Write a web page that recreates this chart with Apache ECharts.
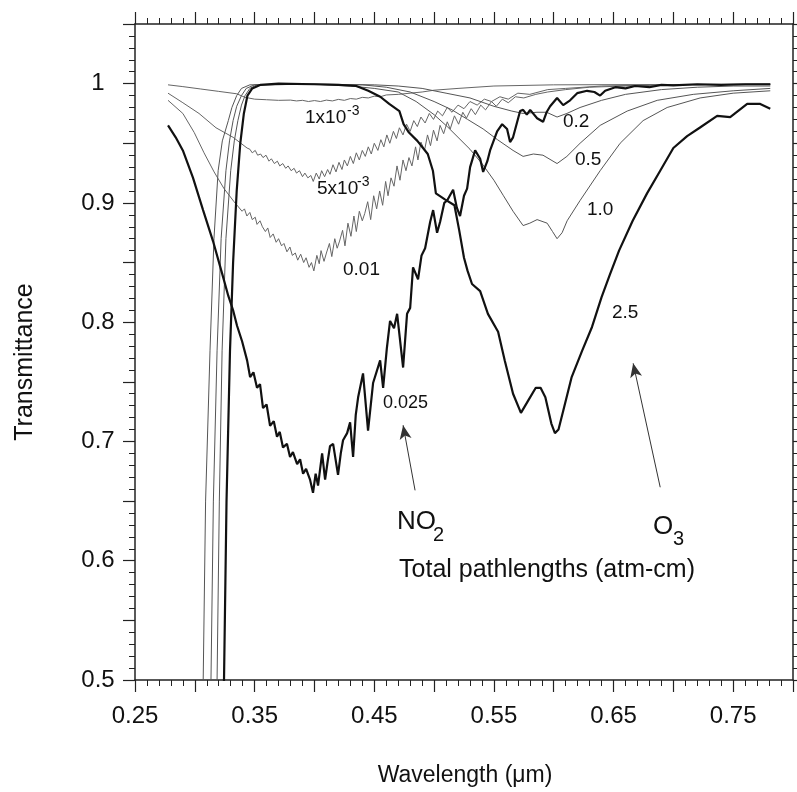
<!DOCTYPE html>
<html>
<head>
<meta charset="utf-8">
<title>Transmittance of O3 and NO2</title>
<script src="https://cdn.jsdelivr.net/npm/echarts/dist/echarts.min.js"></script>
<style>
html, body { margin: 0; padding: 0; background: #fff; }
#main { width: 797px; height: 792px; }
</style>
</head>
<body>
<div id="main"></div>
<script>
// 坐标轴刻度
var xTicks = [0.25, 0.35, 0.45, 0.55, 0.65, 0.75];
var yTicks = [0.5, 0.6, 0.7, 0.8, 0.9, 1];

// O3 curves, [wavelength um, transmittance]
var o3_02 = [
  [0.3066,0.48],[0.307,0.5],[0.309,0.65],[0.3127,0.776],[0.316,0.87],[0.3195,0.927],[0.323,0.952],[0.328,0.969],
  [0.331,0.98],[0.335,0.99],[0.339,0.996],[0.346,0.999],[0.40,0.9995],[0.45,0.999],[0.47,0.998],[0.49,0.996],
  [0.51,0.992],[0.53,0.988],[0.55,0.981],[0.565,0.977],[0.5744,0.975],[0.586,0.976],[0.594,0.976],[0.6028,0.972],
  [0.611,0.975],[0.622,0.980],[0.64,0.986],[0.66,0.991],[0.69,0.995],[0.72,0.997],[0.75,0.998],[0.781,0.998]
];
var o3_05 = [
  [0.3131,0.48],[0.3135,0.5],[0.3155,0.65],[0.3186,0.776],[0.322,0.87],[0.326,0.927],[0.329,0.952],[0.332,0.969],
  [0.335,0.981],[0.339,0.99],[0.343,0.996],[0.35,0.999],[0.40,0.9995],[0.44,0.999],[0.46,0.997],[0.48,0.993],
  [0.50,0.985],[0.515,0.978],[0.528,0.970],[0.541,0.962],[0.553,0.953],[0.566,0.944],[0.5744,0.939],[0.583,0.941],
  [0.591,0.940],[0.6028,0.933],[0.611,0.939],[0.622,0.950],[0.6388,0.965],[0.6614,0.977],[0.6865,0.986],
  [0.7166,0.991],[0.75,0.994],[0.781,0.996]
];
var o3_10 = [
  [0.3182,0.48],[0.3186,0.5],[0.3205,0.65],[0.3228,0.776],[0.326,0.87],[0.330,0.927],[0.333,0.952],[0.336,0.969],
  [0.339,0.982],[0.342,0.99],[0.346,0.996],[0.352,0.999],[0.40,0.9995],[0.43,0.998],[0.45,0.996],[0.47,0.993],
  [0.485,0.985],[0.50,0.974],[0.511,0.964],[0.52,0.955],[0.53,0.945],[0.54,0.933],[0.55,0.919],[0.558,0.906],
  [0.566,0.893],[0.5744,0.881],[0.580,0.883],[0.5861,0.886],[0.5945,0.883],[0.599,0.876],[0.6028,0.870],
  [0.607,0.875],[0.6112,0.885],[0.622,0.902],[0.6388,0.927],[0.6555,0.950],[0.6747,0.969],[0.6948,0.980],
  [0.7224,0.988],[0.75,0.992],[0.781,0.994]
];
var o3_25 = [
  [0.3240,0.48],[0.3244,0.5],[0.3265,0.65],[0.3294,0.776],[0.332,0.85],[0.335,0.91],[0.338,0.95],[0.341,0.975],
  [0.344,0.99],[0.348,0.996],[0.355,0.999],[0.37,1.0],[0.40,0.9995],[0.42,0.999],[0.435,0.998],[0.445,0.994],
  [0.455,0.989],[0.4625,0.983],[0.471,0.977],[0.4745,0.966],[0.479,0.959],[0.486,0.952],[0.4947,0.941],
  [0.499,0.927],[0.5015,0.908],[0.509,0.903],[0.517,0.898],[0.521,0.877],[0.525,0.854],[0.528,0.843],
  [0.5317,0.832],[0.5385,0.826],[0.545,0.807],[0.5535,0.792],[0.559,0.768],[0.566,0.74],[0.5726,0.724],
  [0.5785,0.734],[0.585,0.745],[0.589,0.745],[0.593,0.737],[0.598,0.715],[0.601,0.707],[0.604,0.710],
  [0.608,0.726],[0.615,0.754],[0.6237,0.776],[0.632,0.796],[0.640,0.821],[0.647,0.840],[0.6546,0.86],
  [0.666,0.885],[0.678,0.908],[0.689,0.927],[0.700,0.946],[0.7115,0.956],[0.722,0.963],[0.7366,0.973],
  [0.7475,0.972],[0.7617,0.983],[0.7726,0.983],[0.781,0.979]
];

// NO2 curves
var no2_001 = [
  [0.2776,0.999],[0.29,0.9975],[0.305,0.9955],[0.32,0.9935],[0.335,0.9915],[0.342,0.9885],[0.35,0.987],
  [0.36,0.9865],[0.37,0.986],[0.38,0.9862],[0.385,0.9855],[0.39,0.986],[0.395,0.985],[0.40,0.9858],[0.405,0.985],
  [0.41,0.9862],[0.415,0.9855],[0.42,0.9868],[0.425,0.986],[0.43,0.9875],[0.435,0.987],[0.44,0.9885],[0.445,0.988],
  [0.45,0.9895],[0.455,0.989],[0.46,0.9905],[0.47,0.991],[0.48,0.992],[0.49,0.993],[0.50,0.9945],[0.52,0.996],
  [0.55,0.998],[0.60,0.999],[0.781,0.9995]
];
var no2_005 = [
  [0.2776,0.992],[0.290,0.984],[0.3035,0.975],[0.3177,0.963],[0.332,0.955],[0.3437,0.946],[0.346,0.945],
  [0.348,0.942],[0.3505,0.944],[0.3525,0.940],[0.355,0.941],[0.357,0.938],[0.3595,0.940],[0.362,0.935],
  [0.364,0.937],[0.3665,0.933],[0.369,0.935],[0.371,0.931],[0.3735,0.933],[0.376,0.929],[0.378,0.931],
  [0.3805,0.927],[0.383,0.929],[0.385,0.925],[0.3875,0.927],[0.390,0.922],[0.392,0.925],[0.3945,0.921],
  [0.397,0.923],[0.399,0.918],[0.4015,0.925],[0.404,0.920],[0.406,0.927],[0.4085,0.922],[0.411,0.928],
  [0.413,0.924],[0.4155,0.932],[0.418,0.926],[0.4205,0.934],[0.423,0.928],[0.425,0.936],[0.4275,0.931],
  [0.430,0.939],[0.4325,0.933],[0.435,0.942],[0.4375,0.936],[0.440,0.944],[0.4425,0.939],[0.445,0.947],
  [0.4475,0.941],[0.450,0.950],[0.453,0.944],[0.4555,0.953],[0.458,0.947],[0.4605,0.957],[0.463,0.950],
  [0.466,0.960],[0.4685,0.954],[0.471,0.963],[0.474,0.957],[0.477,0.966],[0.480,0.960],[0.483,0.969],
  [0.486,0.964],[0.489,0.972],[0.4925,0.967],[0.496,0.975],[0.4995,0.970],[0.503,0.977],[0.507,0.973],
  [0.511,0.980],[0.515,0.976],[0.52,0.982],[0.525,0.979],[0.53,0.985],[0.536,0.982],[0.542,0.987],
  [0.548,0.985],[0.555,0.989],[0.562,0.987],[0.57,0.992],[0.58,0.991],[0.595,0.995],[0.61,0.996],
  [0.64,0.998],[0.70,0.999],[0.781,0.9995]
];
var no2_010 = [
  [0.2776,0.986],[0.290,0.975],[0.2995,0.959],[0.3077,0.942],[0.3161,0.926],[0.3244,0.912],[0.3328,0.901],
  [0.3395,0.893],[0.3415,0.895],[0.3435,0.889],[0.346,0.892],[0.348,0.886],[0.3505,0.888],[0.352,0.882],
  [0.3545,0.885],[0.3565,0.880],[0.359,0.876],[0.361,0.879],[0.363,0.871],[0.3655,0.874],[0.368,0.867],
  [0.370,0.870],[0.3725,0.864],[0.3745,0.866],[0.377,0.859],[0.3795,0.863],[0.3815,0.856],[0.384,0.858],
  [0.386,0.852],[0.3885,0.857],[0.391,0.850],[0.393,0.854],[0.3955,0.846],[0.3975,0.850],[0.3995,0.843],
  [0.402,0.856],[0.404,0.849],[0.4055,0.860],[0.408,0.851],[0.410,0.858],[0.4125,0.866],[0.4145,0.855],
  [0.417,0.870],[0.419,0.862],[0.421,0.868],[0.4235,0.877],[0.4255,0.864],[0.428,0.883],[0.4305,0.872],
  [0.433,0.889],[0.435,0.876],[0.4375,0.893],[0.440,0.885],[0.442,0.891],[0.4445,0.901],[0.447,0.886],
  [0.4495,0.906],[0.452,0.895],[0.4545,0.910],[0.457,0.898],[0.4595,0.918],[0.4615,0.906],[0.464,0.921],
  [0.4665,0.914],[0.469,0.931],[0.4715,0.919],[0.474,0.936],[0.4765,0.927],[0.479,0.938],[0.4815,0.931],
  [0.4845,0.947],[0.4865,0.936],[0.489,0.951],[0.492,0.944],[0.4945,0.957],[0.497,0.948],[0.4995,0.961],
  [0.5025,0.952],[0.505,0.965],[0.508,0.958],[0.511,0.968],[0.5135,0.962],[0.517,0.973],[0.5205,0.966],
  [0.524,0.976],[0.527,0.971],[0.531,0.979],[0.5345,0.974],[0.539,0.982],[0.543,0.978],[0.548,0.985],
  [0.552,0.981],[0.557,0.987],[0.562,0.984],[0.568,0.989],[0.575,0.988],[0.585,0.991],[0.595,0.993],
  [0.61,0.995],[0.63,0.997],[0.66,0.998],[0.70,0.999],[0.781,0.9995]
];
var no2_025 = [
  [0.2776,0.965],[0.284,0.955],[0.290,0.944],[0.2985,0.921],[0.3069,0.894],[0.3152,0.868],[0.3236,0.838],
  [0.328,0.822],[0.332,0.81],[0.3353,0.797],[0.3395,0.784],[0.3437,0.768],[0.3462,0.754],[0.349,0.758],
  [0.352,0.745],[0.3545,0.748],[0.357,0.728],[0.360,0.731],[0.3629,0.713],[0.366,0.717],[0.3687,0.704],
  [0.371,0.708],[0.3737,0.695],[0.377,0.698],[0.3796,0.687],[0.382,0.691],[0.3855,0.681],[0.388,0.685],
  [0.3905,0.673],[0.393,0.677],[0.3963,0.668],[0.3988,0.657],[0.401,0.673],[0.403,0.663],[0.4064,0.690],
  [0.4089,0.668],[0.411,0.683],[0.413,0.696],[0.4156,0.698],[0.4197,0.672],[0.422,0.690],[0.4239,0.701],
  [0.4273,0.707],[0.4298,0.716],[0.4323,0.687],[0.4345,0.722],[0.4365,0.737],[0.4406,0.757],[0.4448,0.709],
  [0.449,0.749],[0.4549,0.768],[0.4574,0.745],[0.4605,0.778],[0.4632,0.801],[0.4665,0.795],[0.4691,0.807],
  [0.4741,0.762],[0.4774,0.807],[0.480,0.812],[0.4824,0.846],[0.4866,0.836],[0.4895,0.856],[0.4925,0.862],
  [0.4967,0.884],[0.4992,0.894],[0.5025,0.875],[0.505,0.884],[0.5085,0.900],[0.5109,0.902],[0.5159,0.911],
  [0.519,0.896],[0.5217,0.889],[0.525,0.906],[0.5276,0.912],[0.5301,0.930],[0.5343,0.944],[0.5385,0.937],
  [0.541,0.926],[0.5445,0.935],[0.5468,0.944],[0.5527,0.960],[0.5569,0.966],[0.561,0.962],[0.5635,0.951],
  [0.566,0.955],[0.5719,0.977],[0.5744,0.978],[0.5775,0.974],[0.5803,0.978],[0.5861,0.971],[0.5911,0.968],
  [0.594,0.976],[0.597,0.981],[0.6028,0.988],[0.6079,0.982],[0.6137,0.986],[0.6196,0.992],[0.6279,0.994],
  [0.634,0.993],[0.6388,0.99],[0.643,0.994],[0.6515,0.997],[0.66,0.996],[0.668,0.998],[0.68,0.997],
  [0.69,0.999],[0.70,0.9985],[0.72,0.9995],[0.74,0.999],[0.76,0.9995],[0.781,0.9995]
];

// arrows (data coords): NO2 and O3
var arrowNO2 = [[0.4841, 0.659], [0.4741, 0.7136]];
var arrowO3 = [[0.689, 0.6616], [0.6664, 0.7655]];

var FONT = '"Liberation Sans", Arial, Helvetica, sans-serif';
var AXC = '#222';

function near(v, list) {
  for (var i = 0; i < list.length; i++) {
    if (Math.abs(v - list[i]) < 1e-6) return true;
  }
  return false;
}

// 坐标轴，上下左右都有刻度
function makeAxis(isX, pos, showLabel) {
  var ax = {
    type: 'value',
    position: pos,
    min: isX ? 0.25 : 0.5,
    max: isX ? 0.80 : 1.05,
    interval: 0.05,
    axisLine: { show: true, onZero: false, lineStyle: { color: AXC, width: 1.5 } },
    axisTick: { show: true, length: 12, lineStyle: { color: AXC, width: 1.2 } },
    minorTick: { show: true, splitNumber: 5, length: 6, lineStyle: { color: AXC, width: 1 } },
    splitLine: { show: false },
    minorSplitLine: { show: false },
    axisLabel: { show: false }
  };
  if (showLabel) {
    ax.axisLabel = {
      show: true,
      color: '#111',
      fontSize: 24,
      fontFamily: FONT,
      margin: isX ? 24 : 37,
      align: 'center',
      formatter: function (v) {
        if (isX) return near(v, xTicks) ? v.toFixed(2) : '';
        return near(v, yTicks) ? String(Math.round(v * 10) / 10) : '';
      }
    };
  }
  return ax;
}

function line(data, color, width, extra) {
  var s = {
    type: 'line',
    data: data,
    showSymbol: false,
    symbol: 'none',
    silent: true,
    clip: true,
    lineStyle: { color: color, width: width },
    z: width > 1.5 ? 4 : 3
  };
  if (extra) s.markLine = extra;
  return s;
}

function txt(text, x, y, size, align, rot) {
  return {
    type: 'text',
    x: x, y: y,
    rotation: rot || 0,
    z: 10,
    style: {
      text: text,
      fill: '#111',
      font: size + 'px ' + FONT,
      textAlign: align || 'left',
      textVerticalAlign: 'middle'
    }
  };
}

var chart = echarts.init(document.getElementById('main'));
chart.setOption({
  animation: false,
  backgroundColor: '#fff',
  grid: { left: 135, right: 4, top: 24, bottom: 112, containLabel: false },
  xAxis: [makeAxis(true, 'bottom', true), makeAxis(true, 'top', false)],
  yAxis: [makeAxis(false, 'left', true), makeAxis(false, 'right', false)],
  series: [
    line(no2_001, '#666', 1),
    line(no2_005, '#666', 1),
    line(no2_010, '#666', 1),
    line(o3_02, '#555', 1),
    line(o3_05, '#555', 1),
    line(o3_10, '#555', 1),
    line(no2_025, '#111', 2.2),
    line(o3_25, '#111', 2.2, {
      silent: true,
      symbol: ['none', 'arrow'],
      symbolSize: [9, 14],
      label: { show: false },
      lineStyle: { color: '#333', width: 1, type: 'solid' },
      data: [
        [{ coord: arrowNO2[0] }, { coord: arrowNO2[1] }],
        [{ coord: arrowO3[0] }, { coord: arrowO3[1] }]
      ]
    })
  ],
  graphic: [
    txt('Transmittance', 25, 362, 25, 'center', Math.PI / 2),
    txt('Wavelength (\u03bcm)', 465, 776, 23, 'center'),
    txt('1x10', 305, 118, 19), txt('-3', 347, 111, 14),
    txt('5x10', 317, 189, 19), txt('-3', 357, 182, 14),
    txt('0.01', 343, 270, 19),
    txt('0.025', 383, 403, 18),
    txt('0.2', 563, 122, 19),
    txt('0.5', 575, 160, 19),
    txt('1.0', 587, 210, 19),
    txt('2.5', 612, 313, 19),
    txt('NO', 397, 522, 26), txt('2', 433, 535, 20),
    txt('O', 653, 527, 26), txt('3', 673, 539, 20),
    txt('Total pathlengths (atm-cm)', 547, 570, 25, 'center')
  ]
});
</script>
</body>
</html>
